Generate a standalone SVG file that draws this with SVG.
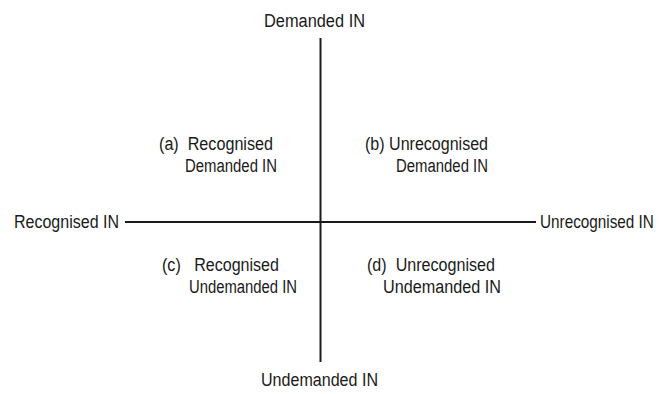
<svg xmlns="http://www.w3.org/2000/svg" width="662" height="394" viewBox="0 0 662 394">
<style>
text{font-family:"Liberation Sans",Arial,sans-serif;font-size:18px;fill:#1a1a1a}
.ax{stroke:#1a1a1a;stroke-width:2;fill:none}
</style>
<rect width="662" height="394" fill="#fff"/>
<g id="connectors">
<line class="ax" x1="320.5" y1="38" x2="320.5" y2="362"/>
<line class="ax" x1="125" y1="222" x2="536" y2="222"/>
</g>
<g id="top"><text x="264" y="27" textLength="101" lengthAdjust="spacingAndGlyphs">Demanded IN</text></g>
<g id="bottom"><text x="261" y="386" textLength="117" lengthAdjust="spacingAndGlyphs">Undemanded IN</text></g>
<g id="left"><text x="14" y="228" textLength="105" lengthAdjust="spacingAndGlyphs">Recognised IN</text></g>
<g id="right"><text transform="translate(540,228) scale(0.85,1)" x="0" y="0">Unrecognised IN</text></g>
<g id="qa">
<text x="159" y="150" textLength="114" lengthAdjust="spacingAndGlyphs" xml:space="preserve">(a)  Recognised</text>
<text x="185" y="172" textLength="92" lengthAdjust="spacingAndGlyphs">Demanded IN</text>
</g>
<g id="qb">
<text x="365" y="150" textLength="123" lengthAdjust="spacingAndGlyphs">(b) Unrecognised</text>
<text x="396" y="172" textLength="92" lengthAdjust="spacingAndGlyphs">Demanded IN</text>
</g>
<g id="qc">
<text x="162" y="271" textLength="117" lengthAdjust="spacingAndGlyphs" xml:space="preserve">(c)   Recognised</text>
<text x="189" y="293" textLength="108" lengthAdjust="spacingAndGlyphs">Undemanded IN</text>
</g>
<g id="qd">
<text x="367" y="271" textLength="128" lengthAdjust="spacingAndGlyphs" xml:space="preserve">(d)  Unrecognised</text>
<text x="383" y="293" textLength="118" lengthAdjust="spacingAndGlyphs">Undemanded IN</text>
</g>
</svg>
